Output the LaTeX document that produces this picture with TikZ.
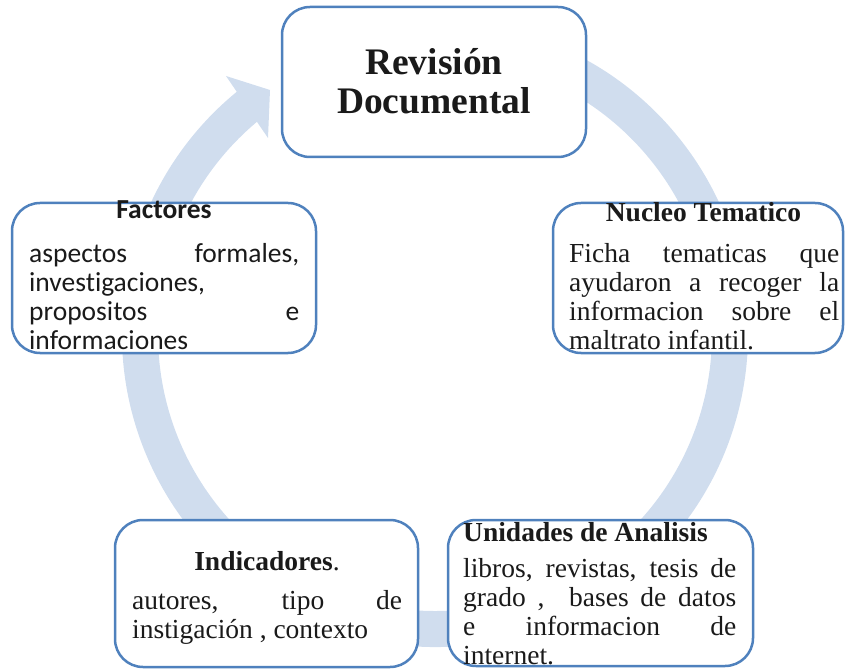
\documentclass[tikz,border=0pt]{standalone}
\usepackage{fontspec}
\setmainfont{Liberation Serif}
\newfontfamily\calibri[Ligatures=NoCommon]{Carlito}
\usepackage{tikz}

\definecolor{boxblue}{RGB}{79,129,189}
\definecolor{ringblue}{RGB}{208,221,238}
\definecolor{ink}{RGB}{26,26,26}

\newcommand{\jline}[2][270pt]{\makebox[#1][s]{#2}}

\begin{document}
\begin{tikzpicture}[x=1pt,y=1pt,
  box/.style={draw=boxblue,line width=2.5pt,fill=white,rounded corners=28pt},
  head/.style={text=ink,inner sep=0pt,align=center,font=\fontsize{27.5}{29}\selectfont\bfseries},
  body/.style={text=ink,inner sep=0pt,align=left,font=\fontsize{27.5}{29}\selectfont},
  calbody/.style={body,font=\fontsize{27.5}{29}\selectfont\calibri}]
\useasboundingbox (0,0) rectangle (845,670);
\coordinate (c) at (435,336);
\fill[ringblue] ([shift={(80:313)}]c) arc[start angle=80,end angle=-230.7,radius=313]
  -- (226,594) -- (270,580) -- (268,532) -- ([shift={(130:277)}]c)
  arc[start angle=-230,end angle=80,radius=277] -- cycle;

\node[box,minimum width=304pt,minimum height=150pt] (rev) at (434,588) {};
\node[box,minimum width=304pt,minimum height=150pt] (fac) at (164,392) {};
\node[box,minimum width=290pt,minimum height=150pt] (nuc) at (698,392) {};
\node[box,minimum width=303pt,minimum height=147pt] (ind) at (266.5,76.5) {};
\node[box,minimum width=305pt,minimum height=146pt] (uni) at (600.5,77) {};

\node[head,anchor=base,font=\fontsize{37.5}{39}\selectfont\bfseries] (revtxt) at (434,556) {Revisión\\Documental};

\node[head,anchor=base] (factit) at (164,451) {\calibri Factores};
\node[calbody,anchor=base west] (factxt) at (29,320)
  {\jline{aspectos formales,}\\investigaciones,\\\jline{propositos e}\\informaciones};

\node[head,anchor=base] (nuctit) at (703.5,448) {Nucleo Tematico};
\node[body,anchor=base west] (nuctxt) at (569,320)
  {\jline{Ficha tematicas que}\\\jline{ayudaron a recoger la}\\\jline{informacion sobre el}\\maltrato infantil.};

\node[head,anchor=base] (indtit) at (267,100) {Indicadores\textmd{.}};
\node[body,anchor=base west] (indtxt) at (132,32)
  {\jline{autores, tipo de}\\instigación , contexto};

\node[head,anchor=base west] (unitit) at (463,129) {Unidades de Analisis};
\node[body,anchor=base west] (unitxt) at (463,6)
  {\jline[273pt]{libros, revistas, tesis de}\\\jline[273pt]{grado , \ bases de datos}\\\jline[273pt]{e informacion de}\\internet.};
\end{tikzpicture}
\end{document}
